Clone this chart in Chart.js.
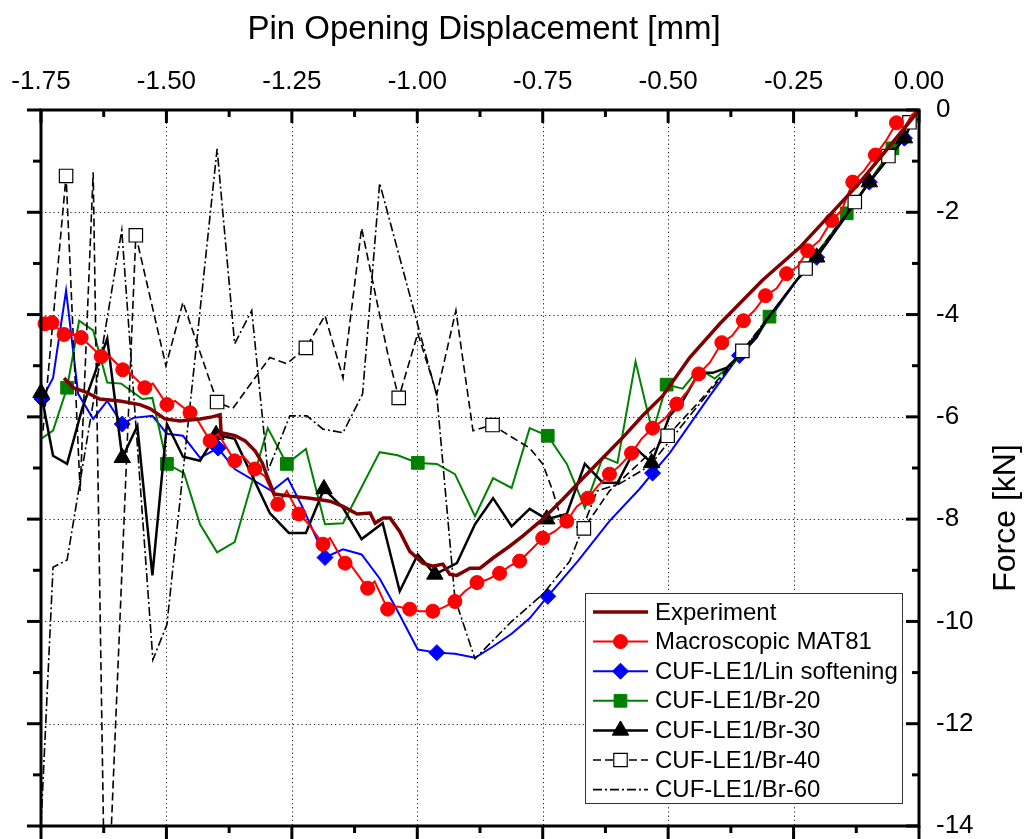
<!DOCTYPE html>
<html><head><meta charset="utf-8">
<script src="https://cdn.jsdelivr.net/npm/chart.js@4.4.1/dist/chart.umd.min.js"></script>
<style>html,body{margin:0;padding:0;background:#fff}#wrap{width:1025px;height:839px}</style>
</head><body><div id="wrap"><canvas id="c" width="1025" height="839"></canvas></div>
<script>
// ---------- DATA ----------
const xTickVals = [-1.75,-1.5,-1.25,-1.0,-0.75,-0.5,-0.25,0];
const yTickVals = [-14,-12,-10,-8,-6,-4,-2,0];

const expX = [-1.704,-1.686,-1.662,-1.633,-1.593,-1.553,-1.533,-1.503,-1.473,-1.433,-1.409,-1.393,-1.391,-1.363,-1.343,-1.323,-1.309,-1.297,-1.285,-1.253,-1.214,-1.174,-1.148,-1.120,-1.094,-1.084,-1.068,-1.054,-1.035,-1.015,-0.989,-0.969,-0.949,-0.935,-0.921,-0.895,-0.875,-0.849,-0.816,-0.790,-0.750,-0.710,-0.670,-0.630,-0.591,-0.551,-0.511,-0.457,-0.397,-0.312,-0.238,-0.119,-0.003];
const expY = [-5.24,-5.43,-5.51,-5.65,-5.69,-5.76,-5.84,-6.04,-6.08,-6.04,-6.00,-5.96,-6.31,-6.37,-6.47,-6.67,-6.90,-7.22,-7.51,-7.55,-7.59,-7.65,-7.75,-7.90,-7.88,-8.08,-7.98,-7.98,-8.24,-8.63,-8.86,-8.92,-8.88,-9.08,-9.10,-8.96,-8.96,-8.76,-8.53,-8.33,-8.00,-7.61,-7.20,-6.80,-6.41,-5.98,-5.59,-4.84,-4.18,-3.33,-2.69,-1.43,-0.04];

const macroX = [-1.748,-1.728,-1.704,-1.688,-1.670,-1.652,-1.630,-1.613,-1.587,-1.573,-1.543,-1.527,-1.499,-1.483,-1.453,-1.437,-1.413,-1.397,-1.364,-1.348,-1.324,-1.304,-1.278,-1.260,-1.236,-1.218,-1.188,-1.174,-1.148,-1.131,-1.099,-1.085,-1.059,-1.039,-1.015,-0.995,-0.969,-0.949,-0.925,-0.905,-0.881,-0.860,-0.836,-0.816,-0.796,-0.772,-0.750,-0.726,-0.702,-0.682,-0.660,-0.640,-0.617,-0.597,-0.573,-0.553,-0.531,-0.507,-0.483,-0.461,-0.439,-0.417,-0.393,-0.372,-0.350,-0.328,-0.306,-0.284,-0.264,-0.242,-0.222,-0.198,-0.174,-0.154,-0.132,-0.109,-0.087,-0.065,-0.045,-0.029,-0.015,-0.003];
const macroY = [-4.18,-4.16,-4.39,-4.37,-4.45,-4.61,-4.82,-4.82,-5.08,-5.14,-5.43,-5.35,-5.76,-5.69,-5.92,-6.08,-6.47,-6.33,-6.86,-6.76,-7.02,-7.16,-7.71,-7.45,-7.90,-8.08,-8.49,-8.37,-8.82,-8.92,-9.35,-9.22,-9.76,-9.71,-9.76,-9.80,-9.80,-9.73,-9.61,-9.41,-9.24,-9.18,-9.06,-8.92,-8.82,-8.59,-8.37,-8.24,-8.04,-7.75,-7.59,-7.35,-7.12,-6.96,-6.71,-6.43,-6.22,-6.04,-5.75,-5.49,-5.16,-4.94,-4.55,-4.41,-4.12,-3.92,-3.63,-3.49,-3.20,-3.06,-2.75,-2.55,-2.16,-1.96,-1.41,-1.18,-0.88,-0.59,-0.25,-0.35,-0.10,0];
const macroMarkX = [-1.742,-1.728,-1.704,-1.670,-1.630,-1.587,-1.543,-1.499,-1.453,-1.413,-1.364,-1.324,-1.278,-1.236,-1.188,-1.144,-1.099,-1.059,-1.015,-0.969,-0.925,-0.881,-0.836,-0.796,-0.750,-0.702,-0.660,-0.617,-0.573,-0.531,-0.483,-0.439,-0.393,-0.350,-0.306,-0.264,-0.222,-0.174,-0.132,-0.087,-0.045];
const macroMarkY = [-4.18,-4.16,-4.39,-4.45,-4.82,-5.08,-5.43,-5.76,-5.92,-6.47,-6.86,-7.02,-7.71,-7.90,-8.49,-8.86,-9.35,-9.76,-9.76,-9.80,-9.61,-9.24,-9.06,-8.82,-8.37,-8.04,-7.59,-7.12,-6.71,-6.22,-5.75,-5.16,-4.55,-4.12,-3.63,-3.20,-2.75,-2.16,-1.41,-0.88,-0.25];

const linX = [-1.748,-1.726,-1.700,-1.676,-1.646,-1.618,-1.588,-1.566,-1.528,-1.499,-1.467,-1.433,-1.397,-1.364,-1.290,-1.258,-1.228,-1.184,-1.148,-1.111,-1.075,-1.039,-0.999,-0.961,-0.925,-0.885,-0.849,-0.812,-0.776,-0.740,-0.680,-0.617,-0.557,-0.531,-0.497,-0.417,-0.358,-0.298,-0.244,-0.204,-0.148,-0.099,-0.029,-0.005];
const linY = [-5.65,-5.24,-3.53,-5.55,-6.04,-5.69,-6.14,-6.02,-5.98,-6.33,-6.37,-6.80,-6.61,-7.02,-7.45,-7.20,-7.78,-8.75,-8.59,-8.69,-9.16,-9.80,-10.55,-10.61,-10.63,-10.71,-10.49,-10.24,-9.94,-9.51,-8.82,-8.04,-7.41,-7.10,-6.71,-5.59,-4.80,-4.08,-3.33,-2.88,-2.12,-1.41,-0.55,-0.06];
const linMarkX = [-1.748,-1.588,-1.397,-1.184,-0.961,-0.740,-0.531,-0.358,-0.204,-0.099,-0.029];
const linMarkY = [-5.65,-6.14,-6.61,-8.75,-10.61,-9.51,-7.10,-4.80,-2.88,-1.41,-0.55];

const br20X = [-1.750,-1.726,-1.698,-1.674,-1.646,-1.618,-1.590,-1.548,-1.528,-1.499,-1.465,-1.433,-1.399,-1.364,-1.298,-1.260,-1.222,-1.184,-1.148,-1.075,-1.039,-0.999,-0.961,-0.925,-0.885,-0.849,-0.812,-0.776,-0.740,-0.702,-0.666,-0.630,-0.601,-0.565,-0.531,-0.503,-0.471,-0.439,-0.407,-0.358,-0.324,-0.298,-0.244,-0.144,-0.053,-0.013,-0.001];
const br20Y = [-6.43,-6.27,-5.43,-4.12,-4.31,-5.33,-5.35,-5.65,-5.63,-6.92,-7.10,-8.10,-8.65,-8.45,-6.22,-6.92,-6.63,-8.10,-8.08,-6.69,-6.75,-6.90,-6.92,-7.12,-7.94,-7.20,-7.39,-6.22,-6.37,-6.92,-7.78,-6.78,-6.90,-4.92,-6.31,-5.37,-5.45,-5.06,-5.25,-4.84,-4.45,-4.04,-3.33,-2.02,-0.75,-0.14,-0.20];
const br20MarkX = [-1.698,-1.499,-1.260,-0.999,-0.740,-0.503,-0.298,-0.144,-0.053];
const br20MarkY = [-5.43,-6.92,-6.92,-6.90,-6.37,-5.37,-4.04,-2.02,-0.75];

const br30X = [-1.750,-1.726,-1.698,-1.668,-1.618,-1.588,-1.558,-1.528,-1.499,-1.467,-1.433,-1.401,-1.364,-1.294,-1.256,-1.222,-1.186,-1.148,-1.111,-1.069,-1.035,-0.999,-0.965,-0.921,-0.885,-0.849,-0.812,-0.776,-0.742,-0.702,-0.666,-0.630,-0.601,-0.565,-0.533,-0.497,-0.471,-0.439,-0.411,-0.383,-0.358,-0.324,-0.308,-0.244,-0.204,-0.099,-0.029,-0.005];
const br30Y = [-5.53,-6.76,-6.92,-5.84,-4.47,-6.80,-6.18,-9.10,-6.14,-6.78,-6.86,-6.35,-6.43,-7.88,-8.27,-8.27,-7.41,-7.78,-8.39,-8.08,-9.41,-8.69,-9.08,-8.86,-8.10,-7.59,-8.14,-7.80,-8.00,-7.90,-6.92,-7.29,-7.29,-6.61,-6.90,-5.98,-5.69,-5.14,-5.14,-5.04,-4.80,-4.45,-4.16,-3.33,-2.88,-1.41,-0.55,-0.04];
const br30MarkX = [-1.750,-1.588,-1.401,-1.186,-0.965,-0.742,-0.533,-0.204,-0.099,-0.029];
const br30MarkY = [-5.53,-6.80,-6.35,-7.41,-9.08,-8.00,-6.90,-2.88,-1.41,-0.55];

const br40X = [-1.746,-1.700,-1.672,-1.646,-1.625,-1.611,-1.561,-1.501,-1.467,-1.399,-1.368,-1.294,-1.260,-1.222,-1.184,-1.148,-1.111,-1.059,-1.037,-0.999,-0.961,-0.923,-0.889,-0.850,-0.816,-0.776,-0.750,-0.730,-0.710,-0.668,-0.617,-0.557,-0.501,-0.437,-0.352,-0.226,-0.128,-0.061,-0.019,0];
const br40Y = [-6.27,-1.29,-7.45,-1.22,-14.31,-14.31,-2.45,-5.00,-3.76,-5.71,-5.84,-4.84,-4.96,-4.65,-4.02,-5.24,-2.31,-4.76,-5.63,-4.37,-5.55,-3.92,-6.27,-6.16,-6.37,-6.61,-6.92,-7.45,-8.10,-8.18,-7.45,-6.90,-6.37,-5.69,-4.71,-3.10,-1.80,-0.90,-0.24,0];
const br40MarkX = [-1.700,-1.561,-1.399,-1.222,-1.037,-0.850,-0.668,-0.501,-0.352,-0.226,-0.128,-0.061,-0.019];
const br40MarkY = [-1.29,-2.45,-5.71,-4.65,-5.63,-6.16,-8.18,-6.37,-4.71,-3.10,-1.80,-0.90,-0.24];

const br60X = [-1.750,-1.726,-1.698,-1.589,-1.527,-1.499,-1.399,-1.364,-1.330,-1.298,-1.254,-1.220,-1.188,-1.148,-1.109,-1.075,-0.961,-0.925,-0.885,-0.812,-0.750,-0.696,-0.642,-0.597,-0.537,-0.457,-0.358,-0.244,-0.204,-0.099,-0.029,0];
const br60Y = [-13.98,-8.94,-8.80,-2.35,-10.75,-10.06,-0.76,-4.57,-3.92,-7.06,-5.98,-5.98,-6.24,-6.31,-5.55,-1.43,-5.59,-9.55,-10.73,-10.00,-9.47,-8.82,-7.45,-7.31,-6.96,-5.98,-4.80,-3.33,-2.88,-1.41,-0.55,0];

const seriesLabels = ['Experiment','Macroscopic MAT81','CUF-LE1/Lin softening','CUF-LE1/Br-20','CUF-LE1/Br-30','CUF-LE1/Br-40','CUF-LE1/Br-60'];

// ---------- STYLE / BUILD ----------
const FONT = "'Liberation Sans', Arial, Helvetica, sans-serif";
Chart.defaults.font.family = FONT;
Chart.defaults.color = '#000';

const pts = (X, Y) => X.map((x, i) => ({x, y: Y[i]}));
const lineDs = (label, X, Y, color, width, dash) => ({
  label, data: pts(X, Y), showLine: true, borderColor: color, backgroundColor: color,
  borderWidth: width, borderDash: dash || [], pointRadius: 0, pointHoverRadius: 0,
  tension: 0, fill: false, borderJoinStyle: 'miter', borderCapStyle: 'butt'
});
const markDs = (label, X, Y, style, r, fill, stroke, bw) => ({
  label, data: pts(X, Y), showLine: false, pointStyle: style, pointRadius: r,
  pointHoverRadius: r, pointBackgroundColor: fill, pointBorderColor: stroke,
  pointBorderWidth: bw, clip: false
});

const styles = [
  {color:'#800000', width:3.5, dash:[], marker:null},
  {color:'#ff0000', width:2, dash:[], marker:'circle', r:7, fill:'#ff0000', stroke:'#ff0000', bw:1},
  {color:'#0000ff', width:2, dash:[], marker:'rectRot', r:8, fill:'#0000ff', stroke:'#0000ff', bw:1},
  {color:'#008000', width:2, dash:[], marker:'rect', r:9, fill:'#008000', stroke:'#008000', bw:1},
  {color:'#000000', width:2.5, dash:[], marker:'triangle', r:9.5, fill:'#000000', stroke:'#000000', bw:1},
  {color:'#000000', width:1.6, dash:[8,4], marker:'rect', r:9.5, fill:'#ffffff', stroke:'#000000', bw:1.2},
  {color:'#000000', width:1.6, dash:[9,3,2,3], marker:null}
];

const datasets = [
  lineDs(seriesLabels[0], expX, expY, styles[0].color, styles[0].width),
  markDs(seriesLabels[1], macroMarkX, macroMarkY, 'circle', 7, '#ff0000', '#ff0000', 1),
  lineDs(seriesLabels[1], macroX, macroY, styles[1].color, styles[1].width),
  markDs(seriesLabels[5], br40MarkX, br40MarkY, 'rect', 9.5, '#ffffff', '#000000', 1.2),
  lineDs(seriesLabels[5], br40X, br40Y, '#000000', 1.6, [8,4]),
  markDs(seriesLabels[4], br30MarkX, br30MarkY, 'triangle', 9.5, '#000000', '#000000', 1),
  lineDs(seriesLabels[4], br30X, br30Y, '#000000', 2.5),
  lineDs(seriesLabels[6], br60X, br60Y, '#000000', 1.6, [9,3,2,3]),
  markDs(seriesLabels[3], br20MarkX, br20MarkY, 'rect', 9, '#008000', '#008000', 1),
  lineDs(seriesLabels[3], br20X, br20Y, '#008000', 2),
  markDs(seriesLabels[2], linMarkX, linMarkY, 'rectRot', 8, '#0000ff', '#0000ff', 1),
  lineDs(seriesLabels[2], linX, linY, '#0000ff', 2)
];

function drawMarker(ctx, type, x, y, r, fill, stroke, lw) {
  ctx.save();
  ctx.setLineDash([]);
  ctx.beginPath();
  if (type === 'circle') ctx.arc(x, y, r, 0, Math.PI * 2);
  else if (type === 'rectRot') { ctx.moveTo(x, y - r); ctx.lineTo(x + r, y); ctx.lineTo(x, y + r); ctx.lineTo(x - r, y); ctx.closePath(); }
  else if (type === 'rect') { const s = r * Math.SQRT1_2; ctx.rect(x - s, y - s, 2 * s, 2 * s); }
  else if (type === 'triangle') { ctx.moveTo(x, y - r); ctx.lineTo(x + 0.866 * r, y + 0.5 * r); ctx.lineTo(x - 0.866 * r, y + 0.5 * r); ctx.closePath(); }
  ctx.fillStyle = fill; ctx.fill();
  ctx.lineWidth = lw; ctx.strokeStyle = stroke; ctx.stroke();
  ctx.restore();
}

const decor = {
  id: 'decor',
  beforeDraw(chart) {
    const ctx = chart.ctx;
    ctx.save(); ctx.fillStyle = '#fff'; ctx.fillRect(0, 0, chart.width, chart.height); ctx.restore();
  },
  beforeDatasetsDraw(chart) {
    const {ctx, chartArea: a, scales: {x, y}} = chart;
    ctx.save();
    ctx.strokeStyle = '#222'; ctx.lineWidth = 1; ctx.setLineDash([1.2, 3]);
    xTickVals.slice(1, -1).forEach(v => {
      const p = Math.round(x.getPixelForValue(v)) + 0.5;
      ctx.beginPath(); ctx.moveTo(p, a.top); ctx.lineTo(p, a.bottom); ctx.stroke();
    });
    yTickVals.slice(1, -1).forEach(v => {
      const p = Math.round(y.getPixelForValue(v)) + 0.5;
      ctx.beginPath(); ctx.moveTo(a.left, p); ctx.lineTo(a.right, p); ctx.stroke();
    });
    ctx.restore();
  },
  afterDatasetsDraw(chart) {
    const {ctx, chartArea: a, scales: {x, y}} = chart;
    ctx.save();
    ctx.strokeStyle = '#000'; ctx.lineWidth = 3; ctx.setLineDash([]); ctx.lineCap = 'square';
    ctx.beginPath();
    ctx.rect(a.left, a.top, a.right - a.left, a.bottom - a.top);
    ctx.stroke();
    ctx.lineCap = 'butt';
    const seg = (x1, y1, x2, y2) => { ctx.beginPath(); ctx.moveTo(x1, y1); ctx.lineTo(x2, y2); ctx.stroke(); };
    for (let i = 0; i < xTickVals.length; i++) {
      const p = x.getPixelForValue(xTickVals[i]);
      seg(p, a.top, p, a.top + 13);          // top: inward
      seg(p, a.bottom, p, a.bottom + 13);    // bottom: outward
      if (i < xTickVals.length - 1) {
        const m = x.getPixelForValue((xTickVals[i] + xTickVals[i + 1]) / 2);
        seg(m, a.top, m, a.top + 7);
        seg(m, a.bottom, m, a.bottom + 7);
      }
    }
    for (let i = 0; i < yTickVals.length; i++) {
      const p = y.getPixelForValue(yTickVals[i]);
      seg(a.left - 14, p, a.left, p);        // left: outward
      seg(a.right - 13, p, a.right, p);      // right: inward
      if (i < yTickVals.length - 1) {
        const m = y.getPixelForValue((yTickVals[i] + yTickVals[i + 1]) / 2);
        seg(a.left - 8, m, a.left, m);
        seg(a.right - 7, m, a.right, m);
      }
    }
    ctx.restore();
  },
  afterDraw(chart) {
    const ctx = chart.ctx;
    ctx.save();
    // Axis titles
    ctx.fillStyle = '#000';
    ctx.font = '33px ' + FONT;
    ctx.textAlign = 'center'; ctx.textBaseline = 'alphabetic';
    ctx.fillText('Pin Opening Displacement [mm]', 484, 39);
    ctx.save();
    ctx.font = '32px ' + FONT;
    ctx.translate(1015, 518);
    ctx.rotate(-Math.PI / 2);
    ctx.fillText('Force [kN]', 0, 0);
    ctx.restore();
    // Legend
    const bx = 585.5, by = 593.5, bw = 317, bh = 210;
    ctx.fillStyle = '#fff'; ctx.fillRect(bx, by, bw, bh);
    ctx.strokeStyle = '#333'; ctx.lineWidth = 1; ctx.setLineDash([]);
    ctx.strokeRect(bx, by, bw, bh);
    ctx.font = '24px ' + FONT; ctx.textAlign = 'left'; ctx.textBaseline = 'middle';
    seriesLabels.forEach((lab, i) => {
      const st = styles[i];
      const yy = 612 + i * 29.6;
      ctx.save();
      ctx.strokeStyle = st.color; ctx.lineWidth = st.width; ctx.setLineDash(st.dash);
      ctx.beginPath(); ctx.moveTo(593, yy); ctx.lineTo(648, yy); ctx.stroke();
      ctx.restore();
      if (st.marker) drawMarker(ctx, st.marker, 620.5, yy, st.r, st.fill, st.stroke, st.bw);
      ctx.fillStyle = '#000';
      ctx.fillText(lab, 655, yy + 1);
    });
    ctx.restore();
  }
};

new Chart(document.getElementById('c'), {
  type: 'scatter',
  data: { datasets },
  options: {
    responsive: false, animation: false, devicePixelRatio: 1,
    layout: { padding: { left: 41, top: 0, right: 0, bottom: 13 } },
    plugins: { legend: { display: false }, tooltip: { enabled: false }, title: { display: false } },
    scales: {
      x: {
        type: 'linear', position: 'top', min: -1.75, max: 0,
        afterBuildTicks: s => { s.ticks = xTickVals.map(v => ({value: v})); },
        ticks: { autoSkip: false, maxRotation: 0, minRotation: 0, padding: 13, font: {size: 26}, color: '#000',
                 callback: v => Number(v).toFixed(2) },
        grid: { display: false, drawTicks: false }, border: { display: false },
        afterFit: s => { s.height = 110; s.paddingLeft = 0; s.paddingRight = 0; }
      },
      y: {
        type: 'linear', position: 'right', min: -14, max: 0,
        afterBuildTicks: s => { s.ticks = yTickVals.map(v => ({value: v})); },
        ticks: { autoSkip: false, padding: 17, font: {size: 26}, color: '#000',
                 callback: v => String(Math.round(v)) },
        grid: { display: false, drawTicks: false }, border: { display: false },
        afterFit: s => { s.width = 106; s.paddingTop = 0; s.paddingBottom = 0; }
      }
    }
  },
  plugins: [decor]
});
</script></body></html>
